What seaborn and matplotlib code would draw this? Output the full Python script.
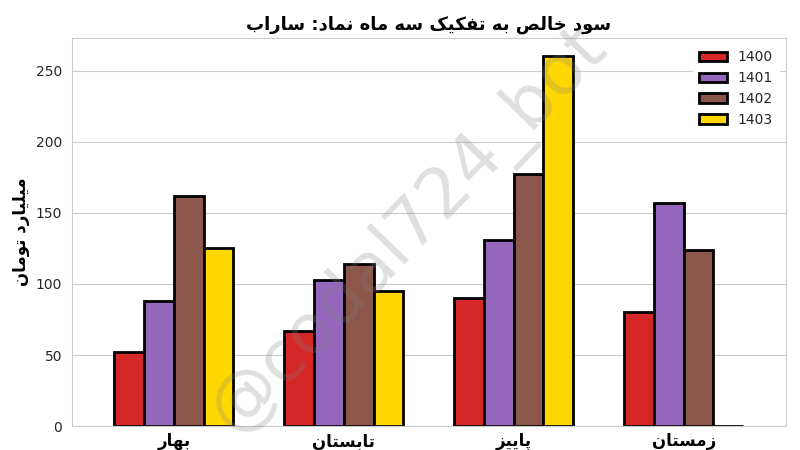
import numpy as np
import pandas as pd
import matplotlib
matplotlib.use('Agg')
import matplotlib.pyplot as plt
import seaborn as sns

# data
seasons = ['بهار', 'تابستان', 'پاییز', 'زمستان']
years = ['1400', '1401', '1402', '1403']
v1400 = [52, 67, 90, 80]
v1401 = [88, 103, 131, 157]
v1402 = [162, 114, 177, 124]
v1403 = [125, 95, 260, 0]
colors = ['#d62728', '#9467bd', '#8c564b', '#ffd700']

title = 'سود خالص به تفکیک سه ماه نماد: ساراب'
ylabel = 'میلیارد تومان'
watermark = '@codal724_bot'

# minimal persian shaping (no arabic_reshaper available)
# letter: (isolated, final, initial, medial) ; right-joining letters only have 2
forms = {
    'ا': ('\uFE8D', '\uFE8E'),
    'د': ('\uFEA9', '\uFEAA'),
    'ر': ('\uFEAD', '\uFEAE'),
    'ز': ('\uFEAF', '\uFEB0'),
    'و': ('\uFEED', '\uFEEE'),
    'ب': ('\uFE8F', '\uFE90', '\uFE91', '\uFE92'),
    'ت': ('\uFE95', '\uFE96', '\uFE97', '\uFE98'),
    'خ': ('\uFEA5', '\uFEA6', '\uFEA7', '\uFEA8'),
    'س': ('\uFEB1', '\uFEB2', '\uFEB3', '\uFEB4'),
    'ص': ('\uFEB9', '\uFEBA', '\uFEBB', '\uFEBC'),
    'ف': ('\uFED1', '\uFED2', '\uFED3', '\uFED4'),
    'ل': ('\uFEDD', '\uFEDE', '\uFEDF', '\uFEE0'),
    'م': ('\uFEE1', '\uFEE2', '\uFEE3', '\uFEE4'),
    'ن': ('\uFEE5', '\uFEE6', '\uFEE7', '\uFEE8'),
    'ه': ('\uFEE9', '\uFEEA', '\uFEEB', '\uFEEC'),
    'پ': ('\uFB56', '\uFB57', '\uFB58', '\uFB59'),
    'ک': ('\uFB8E', '\uFB8F', '\uFB90', '\uFB91'),
    'ی': ('\uFBFC', '\uFBFD', '\uFBFE', '\uFBFF'),
}


def fa(s):
    out = []
    for i, ch in enumerate(s):
        if ch not in forms:
            out.append(ch)
            continue
        prev = s[i - 1] if i > 0 else ''
        nxt = s[i + 1] if i + 1 < len(s) else ''
        join_prev = prev in forms and len(forms[prev]) == 4
        join_next = len(forms[ch]) == 4 and nxt in forms
        f = forms[ch]
        if join_prev and join_next:
            out.append(f[3])
        elif join_prev:
            out.append(f[1])
        elif join_next:
            out.append(f[2])
        else:
            out.append(f[0])
    return ''.join(out)[::-1]


df = pd.DataFrame({
    'season': seasons * 4,
    'year': np.repeat(years, 4),
    'value': v1400 + v1401 + v1402 + v1403,
})
df['season'] = df['season'].map(fa)

sns.set_style('whitegrid')
plt.rcParams['font.family'] = ['DejaVu Sans']

fig, ax = plt.subplots(figsize=(8, 4.5), dpi=100)
sns.barplot(data=df, x='season', y='value', hue='year', palette=colors,
            saturation=1, width=0.7, edgecolor='black', linewidth=2,
            ax=ax, zorder=2)

ax.set_xlim(-0.6, 3.6)
ax.set_title(fa(title), fontsize=13, fontweight='heavy', color='black', pad=6)
ax.set_ylabel(fa(ylabel), fontsize=12, fontweight='heavy', color='black')
ax.set_xlabel('')
ax.tick_params(axis='x', pad=1)
for lab in ax.get_xticklabels():
    lab.set_fontsize(12)
    lab.set_fontweight('heavy')
    lab.set_color('black')
ax.tick_params(axis='y', labelsize=10)

leg = ax.legend(loc='upper right', fontsize=10, frameon=True,
                facecolor='white', edgecolor='white', framealpha=1)
for p in leg.get_patches():
    p.set_edgecolor('black')
    p.set_linewidth(2)

fig.text(0.51, 0.49, watermark, fontsize=50, color='gray', alpha=0.25,
         rotation=46, ha='center', va='center')

fig.subplots_adjust(left=0.09, right=0.982, top=0.916, bottom=0.053)
fig.savefig('out.png', dpi=100)
